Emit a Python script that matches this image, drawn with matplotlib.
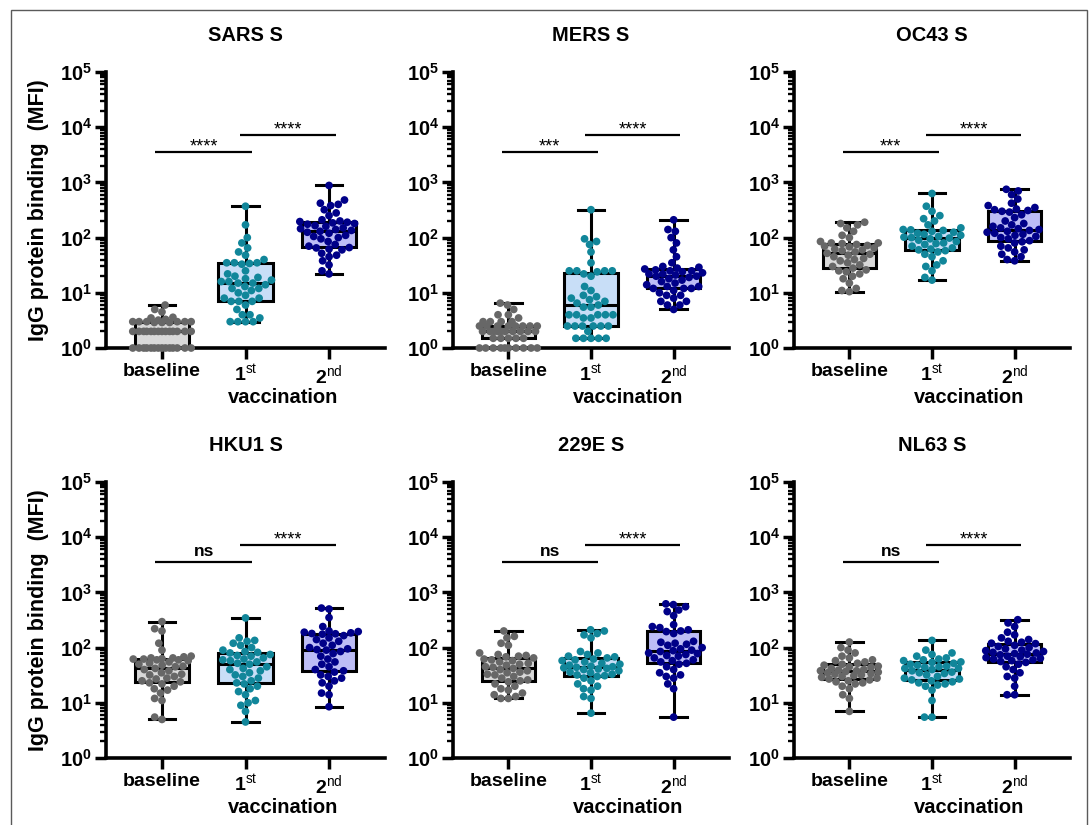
import numpy as np
import matplotlib
matplotlib.use("Agg")
import matplotlib.pyplot as plt
import matplotlib.transforms as mtransforms
from matplotlib.patches import Rectangle
from matplotlib.ticker import LogLocator, NullFormatter, FixedLocator, FixedFormatter

plt.rcParams['font.family'] = ['Liberation Sans', 'DejaVu Sans']
plt.rcParams['mathtext.fontset'] = 'custom'
plt.rcParams['mathtext.rm'] = 'Liberation Sans'
plt.rcParams['mathtext.bf'] = 'Liberation Sans:bold'
plt.rcParams['mathtext.it'] = 'Liberation Sans:italic'

# ---- data (MFI per donor) ----
groups = ["baseline", "1st", "2nd"]
tick_labels = ["baseline", r"$\mathbf{1}^{\mathrm{st}}$", r"$\mathbf{2}^{\mathrm{nd}}$"]
titles = ["SARS S", "MERS S", "OC43 S", "HKU1 S", "229E S", "NL63 S"]
sig_first = ["****", "***", "***", "ns", "ns", "ns"]
sig_second = ["****", "****", "****", "****", "****", "****"]

sars_base = [1, 1, 1, 1, 1, 1, 1, 1, 1, 1, 1, 1, 1, 1, 2, 2, 2, 2, 2, 2, 2, 2, 2, 2, 2, 2, 2, 2,
             2.9, 2.9, 2.9, 3, 3, 3, 3, 3, 3, 3.2, 3.3, 3.5, 3.6, 4.5, 5, 6]
sars_1st = [3, 3, 3, 3, 3.5, 4, 4, 5, 6, 7, 7, 7, 8, 8, 9, 10, 11, 12, 12, 13, 14, 15, 15, 16, 16,
            17, 18, 19, 20, 22, 25, 33, 34, 35, 35, 35, 40, 48, 55, 65, 80, 100, 170, 370]
sars_2nd = [22, 25, 32, 38, 45, 48, 52, 60, 62, 65, 66, 70, 75, 85, 95, 100, 105, 110, 120, 125,
            130, 135, 140, 145, 150, 160, 165, 175, 180, 185, 190, 195, 200, 210, 250, 280, 320,
            380, 400, 420, 480, 880]

mers_base = [1, 1, 1, 1, 1, 1, 1, 1, 1, 1, 1.5, 1.5, 1.5, 1.5, 1.5, 2, 2, 2, 2, 2, 2, 2, 2, 2, 2,
             2.5, 2.5, 2.5, 2.5, 2.5, 2.5, 2.5, 2.5, 3, 3, 3, 3, 3.5, 4, 4, 5, 6, 6.5]
mers_1st = [1.5, 1.5, 1.5, 1.5, 1.5, 2, 2.5, 2.5, 2.5, 2.5, 2.5, 2.5, 3.5, 3.5, 4, 4, 4, 4, 4,
            5.5, 5.5, 6, 6.5, 7, 7.5, 8, 8.5, 9, 11, 13, 20, 22, 24, 25, 25, 25, 25, 35, 55, 75,
            85, 95, 320]
mers_2nd = [5, 6, 6, 7, 7, 8, 9, 9, 10, 11, 12, 12, 12, 13, 13, 14, 15, 16, 17, 18, 19, 20, 20,
            21, 22, 22, 23, 24, 25, 25, 26, 27, 28, 29, 30, 35, 45, 60, 80, 100, 130, 140, 210]

oc43_base = [10.5, 11, 12, 15, 18, 20, 22, 24, 25, 26, 28, 30, 32, 35, 38, 40, 42, 45, 48, 50,
             52, 55, 58, 60, 62, 65, 68, 70, 72, 75, 78, 80, 80, 85, 100, 110, 130, 150, 170,
             180, 190]
oc43_1st = [17, 19, 25, 30, 32, 38, 45, 50, 55, 58, 60, 62, 65, 70, 75, 78, 80, 85, 90, 95, 98,
            100, 102, 105, 110, 115, 120, 125, 130, 135, 138, 140, 150, 170, 200, 220, 250, 300,
            370, 630]
oc43_2nd = [38, 40, 45, 50, 55, 60, 65, 70, 80, 84, 88, 95, 100, 105, 110, 115, 120, 125, 130,
            135, 140, 145, 150, 160, 170, 180, 200, 230, 260, 290, 300, 310, 320, 330, 350, 380,
            420, 500, 600, 700, 750]

hku1_base = [5, 5.5, 11, 12, 15, 17, 18, 20, 22, 23, 24, 25, 27, 28, 30, 32, 33, 35, 38, 40, 42,
             45, 46, 48, 50, 52, 55, 58, 60, 60, 62, 62, 63, 65, 65, 68, 70, 90, 120, 200, 220,
             295]
hku1_1st = [4.5, 7, 9, 10, 11, 14, 16, 18, 20, 22, 23, 25, 28, 30, 32, 35, 38, 40, 42, 45, 50,
            52, 55, 58, 60, 62, 65, 70, 72, 75, 80, 82, 85, 90, 100, 110, 120, 130, 135, 150, 345]
hku1_2nd = [8.5, 14, 15, 20, 23, 25, 28, 30, 32, 36, 38, 40, 45, 50, 55, 62, 70, 78, 85, 90, 92,
            95, 100, 110, 120, 130, 140, 150, 165, 175, 178, 180, 185, 190, 195, 200, 240, 350,
            500, 520]

e229_base = [12, 12, 13, 14, 15, 17, 18, 20, 22, 24, 25, 26, 28, 30, 32, 33, 35, 36, 38, 40, 42,
             44, 45, 48, 50, 52, 55, 58, 60, 62, 65, 68, 70, 72, 75, 80, 110, 120, 150, 160, 200]
e229_1st = [6.5, 12, 13, 17, 18, 20, 22, 25, 28, 30, 31, 32, 33, 35, 36, 38, 40, 41, 42, 43, 44,
            45, 46, 48, 50, 52, 55, 58, 60, 62, 65, 68, 70, 75, 80, 85, 150, 170, 180, 200, 210]
e229_2nd = [5.5, 18, 22, 28, 30, 32, 35, 40, 45, 50, 52, 55, 58, 60, 65, 70, 72, 75, 78, 80, 85,
            88, 90, 95, 100, 110, 115, 120, 125, 130, 180, 195, 200, 210, 230, 240, 260, 380,
            450, 480, 550, 600, 620]

nl63_base = [7, 12, 14, 18, 20, 22, 23, 24, 25, 26, 27, 28, 29, 30, 31, 32, 33, 34, 35, 36, 37,
             38, 38, 39, 40, 42, 44, 45, 46, 48, 50, 52, 55, 58, 60, 65, 70, 80, 90, 100, 126]
nl63_1st = [5.5, 5.5, 11, 17, 20, 21, 22, 23, 24, 25, 26, 27, 28, 30, 32, 34, 35, 36, 38, 40, 42,
            42, 44, 45, 46, 48, 50, 52, 54, 55, 58, 60, 62, 65, 70, 75, 80, 90, 135]
nl63_2nd = [14, 14, 20, 28, 30, 35, 40, 45, 50, 54, 56, 58, 60, 62, 64, 66, 68, 70, 74, 76, 78,
            80, 82, 85, 88, 90, 95, 100, 105, 110, 118, 120, 125, 130, 140, 150, 170, 190, 240,
            280, 320]

panel_data = [
    [sars_base, sars_1st, sars_2nd],
    [mers_base, mers_1st, mers_2nd],
    [oc43_base, oc43_1st, oc43_2nd],
    [hku1_base, hku1_1st, hku1_2nd],
    [e229_base, e229_1st, e229_2nd],
    [nl63_base, nl63_1st, nl63_2nd],
]

point_colors = ["#676767", "#11869a", "#000088"]
box_colors = ["#d9d9d9", "#c8def7", "#bdbdf6"]

W, H = 1091, 825
PX_UNIT = 83.0     # pixels per category step
PX_DEC = 55.4      # pixels per decade


def swarm(vals, d=7.6, lim=29.0):
    # simple beeswarm in pixel space, returns x offsets in data units
    vals = np.asarray(vals, float)
    ys = np.log10(vals) * PX_DEC
    out = np.zeros(len(vals))
    px, py = [], []
    grid = np.linspace(-lim, lim, 17)
    for i in np.argsort(vals, kind="stable"):
        y = ys[i]
        ax_ = np.array(px)
        ay_ = np.array(py)
        cands = [0.0]
        if len(ax_):
            near = np.abs(ay_ - y) < d
            for xx, yy in zip(ax_[near], ay_[near]):
                dx = np.sqrt(d * d - (yy - y) ** 2)
                cands += [xx + dx, xx - dx]
        cands = sorted(set(cands), key=lambda c: (abs(c), c))
        chosen = None
        for c in cands:
            if abs(c) > lim + 0.01:
                continue
            if len(ax_) == 0 or np.all((ax_ - c) ** 2 + (ay_ - y) ** 2 >= d * d - 0.01):
                chosen = c
                break
        if chosen is None:
            dist = [np.min((ax_ - g) ** 2 + (ay_ - y) ** 2) for g in grid]
            chosen = grid[int(np.argmax(dist))]
        px.append(chosen)
        py.append(y)
        out[i] = chosen / PX_UNIT
    return out


fig = plt.figure(figsize=(W / 100, H / 100), dpi=100)

col_left = [106, 453, 794]
col_width = [279, 276, 276]
row_bottom = [348, 758]
ax_h = 276

for k, (title, data) in enumerate(zip(titles, panel_data)):
    r, c = divmod(k, 3)
    ax = fig.add_axes([col_left[c] / W, 1 - row_bottom[r] / H, col_width[c] / W, ax_h / H])
    ax.set_yscale("log")
    ax.set_ylim(1, 1e5)
    ax.set_xlim(-0.67, 2.67)

    bp = ax.boxplot(data, positions=[0, 1, 2], widths=0.65, whis=(0, 100), showfliers=False,
                    patch_artist=True, capwidths=0.32,
                    medianprops=dict(color="black", lw=2.2),
                    boxprops=dict(lw=2.2, edgecolor="black"),
                    whiskerprops=dict(lw=2.2, color="black"),
                    capprops=dict(lw=2.2, color="black"), zorder=2)
    for patch, fc in zip(bp["boxes"], box_colors):
        patch.set_facecolor(fc)

    for j, vals in enumerate(data):
        xs = j + swarm(vals)
        ax.scatter(xs, vals, s=31, color=point_colors[j], edgecolors="none", zorder=3,
                   clip_on=False)

    # significance bars
    for (x0, x1, yv, txt) in [(-0.08, 1.08, 3500, sig_first[k]), (0.93, 2.08, 7300, sig_second[k])]:
        ax.plot([x0, x1], [yv, yv], color="black", lw=1.6, solid_capstyle="butt")
        off = 4.5 if txt == "ns" else 0.5
        ax.annotate(txt, xy=((x0 + x1) / 2, yv), xytext=(0, off), textcoords="offset points",
                    ha="center", va="baseline", fontsize=13 if txt != "ns" else 12.5,
                    fontweight="bold" if txt == "ns" else "normal")

    for s in ["top", "right"]:
        ax.spines[s].set_visible(False)
    for s in ["left", "bottom"]:
        ax.spines[s].set_linewidth(2.6)

    ax.yaxis.set_major_locator(FixedLocator([1, 10, 100, 1e3, 1e4, 1e5]))
    ax.yaxis.set_major_formatter(FixedFormatter([r"$\mathbf{10^{%d}}$" % p for p in range(6)]))
    ax.yaxis.set_minor_locator(LogLocator(base=10, subs=np.arange(2, 10), numticks=20))
    ax.yaxis.set_minor_formatter(NullFormatter())
    ax.tick_params(axis="y", which="major", length=8, width=2.5, labelsize=14.5, pad=2)
    ax.tick_params(axis="y", which="minor", length=4.5, width=1.7)

    ax.set_xticks([0, 1, 2])
    ax.set_xticklabels(tick_labels, fontsize=14, fontweight="bold")
    ax.tick_params(axis="x", length=8, width=2.5, pad=3)

    trans = mtransforms.blended_transform_factory(ax.transData, ax.transAxes)
    ax.text(1.45, -0.178, "vaccination", transform=trans, ha="center", va="center",
            fontsize=14.5, fontweight="bold")
    ax.set_title(title, fontsize=14.5, fontweight="bold", pad=22)

    if c == 0:
        ax.set_ylabel("IgG protein binding  (MFI)", fontsize=15.5, fontweight="bold")
        ax.yaxis.set_label_coords(-0.205, 0.5)

# thin frame around the whole figure
fig.patches.append(Rectangle((11 / W, -0.05), (1087 - 11) / W, 1.05 - 10 / H,
                             transform=fig.transFigure, fill=False, edgecolor="#5a5a5a",
                             lw=1.0))

fig.savefig("out.png", dpi=100, facecolor="white")
